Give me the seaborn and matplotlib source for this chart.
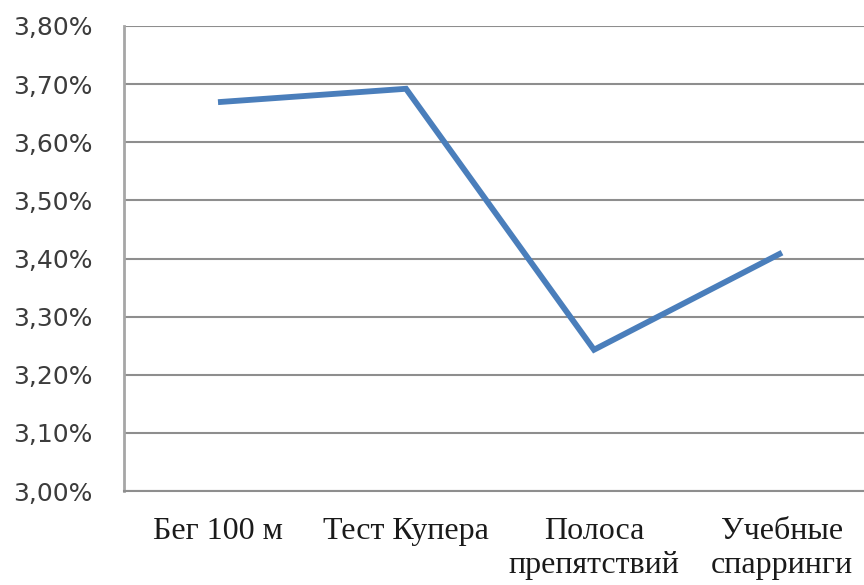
import matplotlib
matplotlib.use("Agg")
import matplotlib.pyplot as plt
import seaborn as sns
import pandas as pd
import numpy as np
from matplotlib.ticker import FixedLocator, FuncFormatter

categories = ["Бег 100 м", "Тест Купера", "Полоса\nпрепятствий", "Учебные\nспарринги"]
values = [3.669, 3.692, 3.243, 3.410]
y_ticks = [3.0, 3.1, 3.2, 3.3, 3.4, 3.5, 3.6, 3.7, 3.8]

sns.set_style("white")
plt.rcParams['font.family'] = ['DejaVu Sans']

df = pd.DataFrame({"pos": np.arange(len(categories)), "value": values})

fig = plt.figure(figsize=(8.64, 5.85), dpi=100)
ax = fig.add_axes([124/864, 94/585, 752/864, 465/585])

grid_c = "#8e8e8e"
sns.lineplot(data=df, x="pos", y="value", ax=ax, color="#4a7ebb", linewidth=4.2,
             solid_capstyle="butt", solid_joinstyle="miter", zorder=3)

ax.set_xlim(-0.5, len(categories) - 0.5)
ax.set_ylim(y_ticks[0], y_ticks[-1])
ax.set_yticks(y_ticks)
ax.yaxis.set_major_formatter(FuncFormatter(lambda v, p: f"{v:.2f}".replace(".", ",") + "%"))
ax.grid(axis="y", color=grid_c, linewidth=1.5, zorder=0)
ax.grid(axis="x", visible=False)

ax.set_xticks(np.arange(len(categories)))
ax.set_xticklabels(categories, family="Liberation Serif", fontsize=23, color="#1a1a1a",
                   linespacing=1.2)
ax.xaxis.set_minor_locator(FixedLocator(np.arange(-0.5, len(categories), 1.0)))
ax.tick_params(axis="x", which="major", length=0, pad=19)
ax.tick_params(axis="x", which="minor", length=6.5, width=1.5, color=grid_c, direction="out")
ax.tick_params(axis="y", which="major", length=8.6, width=1.5, color=grid_c, direction="out",
               labelsize=18, labelcolor="#3c3c3c", pad=14)

ax.set_xlabel("")
ax.set_ylabel("")
for s in ["top", "right"]:
    ax.spines[s].set_visible(False)
ax.spines["left"].set_color("#a6a6a6")
ax.spines["left"].set_linewidth(2.0)
ax.spines["bottom"].set_color(grid_c)
ax.spines["bottom"].set_linewidth(1.5)

fig.savefig("out.png", dpi=100)
